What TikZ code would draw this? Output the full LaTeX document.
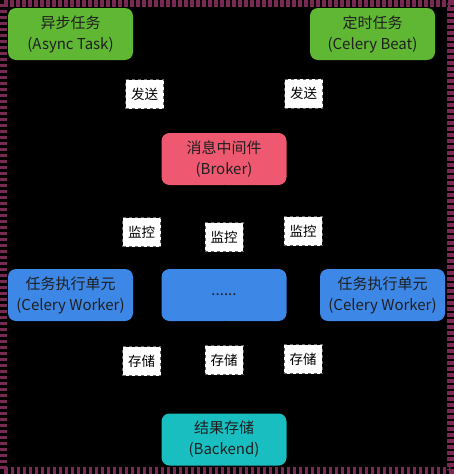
\documentclass[tikz,border=0pt]{standalone}
\usepackage{fontspec}
\setmainfont{Noto Sans CJK SC}
\begin{document}
\begin{tikzpicture}[x=1pt,y=-1pt,
  box/.style={rounded corners=8pt, minimum width=125pt, minimum height=52pt, align=center, text=black!88, font=\fontsize{15}{21}\selectfont, inner sep=0pt},
  lab/.style={fill=white, draw=black!60, dashed, minimum width=38pt, minimum height=29pt, inner sep=0pt, font=\fontsize{13.5}{15}\selectfont},
  conn/.style={draw=black}]
\fill[black] (0,0) rectangle (454,474);
\useasboundingbox (0,0) rectangle (454,474);
\draw[draw={rgb,255:red,122;green,42;blue,82}, line width=7pt, dash pattern=on 3.5pt off 2.5pt] (3.5,3.5) rectangle (450.5,470.5);
\node[box, fill={rgb,255:red,96;green,183;blue,52}] (async) at (70.5,34) {异步任务\\(Async Task)};
\node[box, fill={rgb,255:red,96;green,183;blue,52}] (beat) at (372.5,34) {定时任务\\(Celery Beat)};
\node[box, fill={rgb,255:red,238;green,88;blue,112}] (broker) at (224,159) {消息中间件\\(Broker)};
\node[box, fill={rgb,255:red,61;green,135;blue,230}] (w1) at (70.5,295) {任务执行单元\\(Celery Worker)};
\node[box, fill={rgb,255:red,61;green,135;blue,230}] (w2) at (224,295) {......};
\node[box, fill={rgb,255:red,61;green,135;blue,230}] (w3) at (382.5,295) {任务执行单元\\(Celery Worker)};
\node[box, fill={rgb,255:red,24;green,190;blue,192}] (backend) at (224,439.5) {结果存储\\(Backend)};
\draw[conn] (async) -- (broker);
\draw[conn] (beat) -- (broker);
\draw[conn] (broker) -- (w1);
\draw[conn] (broker) -- (w2);
\draw[conn] (broker) -- (w3);
\draw[conn] (w1) -- (backend);
\draw[conn] (w2) -- (backend);
\draw[conn] (w3) -- (backend);
\node[lab] (l1) at (144.5,94) {发送};
\node[lab] (l2) at (303.5,93.5) {发送};
\node[lab] (l3) at (141.5,232) {监控};
\node[lab] (l4) at (224,237) {监控};
\node[lab] (l5) at (303,231) {监控};
\node[lab] (l6) at (141.5,361) {存储};
\node[lab] (l7) at (224,360) {存储};
\node[lab] (l8) at (303,359) {存储};
\end{tikzpicture}
\end{document}
